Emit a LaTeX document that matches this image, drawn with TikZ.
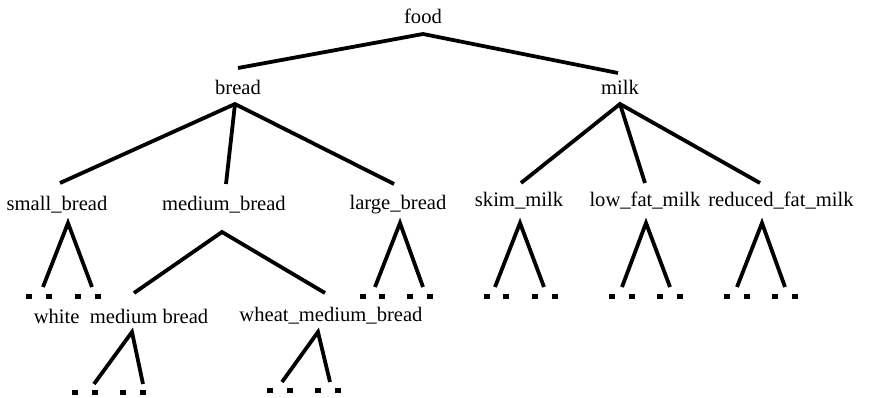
\documentclass[tikz,border=0pt]{standalone}
\usepackage{fontspec}
\setmainfont{Liberation Serif}
\begin{document}
\begin{tikzpicture}[x=1pt,y=-1pt,
  lbl/.style={inner sep=0pt,anchor=center,font=\fontsize{20.6}{25}\selectfont},
  edge/.style={line width=3.8pt},
  dot/.style={fill=black,minimum width=6pt,minimum height=5pt,inner sep=0pt}]
\useasboundingbox (0,0) rectangle (871,397);
% labels
\node[lbl] (food) at (423,16) {food};
\node[lbl] (bread) at (238,87) {bread};
\node[lbl] (milk) at (620,87) {milk};
\node[lbl] (sb) at (57,205) {small\_bread};
\node[lbl] (mb) at (224,205) {medium\_bread};
\node[lbl] (lb) at (398,205) {large\_bread};
\node[lbl] (skm) at (519,201) {skim\_milk};
\node[lbl] (lfm) at (645,201) {low\_fat\_milk};
\node[lbl] (rfm) at (781,201) {reduced\_fat\_milk};
\node[lbl] (wmb) at (121,316) {white\ \ medium bread};
\node[lbl] (whmb) at (331,316) {wheat\_medium\_bread};
% top-level coordinates
\coordinate (foodB) at (423,34);
\coordinate (breadT) at (238,68);
\coordinate (milkT) at (618,73);
\coordinate (breadB) at (235,104);
\coordinate (milkB) at (620,104);
\coordinate (sbT) at (60,183);
\coordinate (mbT) at (226,184);
\coordinate (lbT) at (394,184);
\coordinate (skmT) at (521,183);
\coordinate (lfmT) at (645,183);
\coordinate (rfmT) at (760,183);
\draw[edge] (breadT) -- (foodB) -- (milkT);
\draw[edge] (sbT) -- (breadB) -- (lbT);
\draw[edge] (breadB) -- (mbT);
\draw[edge] (skmT) -- (milkB) -- (rfmT);
\draw[edge] (milkB) -- (lfmT);
% medium bread split
\coordinate (mbA) at (222,232);
\coordinate (mbL) at (134,293);
\coordinate (mbR) at (325,293);
\draw[edge] (mbL) -- (mbA) -- (mbR);
% small triangles with dots
\foreach \n/\ax/\ay/\lx/\rx/\fy/\da/\db/\dc/\dd/\dy in {
  sb/68/223/43/92/287/29/49/78/98/296,
  lb/400/223/375/423/287/363/382/410/430/296,
  skm/520/223/495/544/287/487/506/535/555/296,
  lfm/646/223/622/670/287/612/632/660/680/296,
  rfm/762/223/737/785/287/727/747/775/795/296,
  wmb/132/332/94/143/384/75/95/123/143/392,
  whmb/318/332/282/330/382/270/290/318/338/390}{
  \coordinate (\n A) at (\ax,\ay);
  \coordinate (\n L) at (\lx,\fy);
  \coordinate (\n R) at (\rx,\fy);
  \draw[edge] (\n L) -- (\n A) -- (\n R);
  \node[dot] (\n d1) at (\da,\dy) {};
  \node[dot] (\n d2) at (\db,\dy) {};
  \node[dot] (\n d3) at (\dc,\dy) {};
  \node[dot] (\n d4) at (\dd,\dy) {};
}
\end{tikzpicture}
\end{document}
